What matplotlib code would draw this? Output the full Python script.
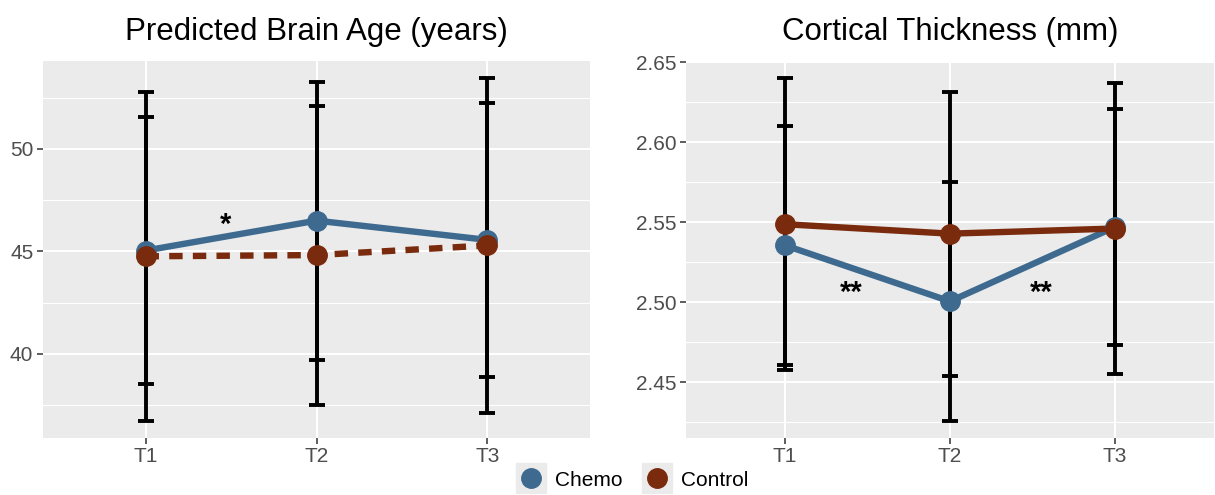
import numpy as np
import matplotlib
matplotlib.use('Agg')
import matplotlib.pyplot as plt
from matplotlib.lines import Line2D

plt.rcParams['font.family'] = ['Liberation Sans', 'DejaVu Sans']

timepoints = ['T1', 'T2', 'T3']

# predicted brain age (years): mean and interval ends
age_chemo = [45.04, 46.50, 45.56]
age_chemo_lo = [38.55, 39.71, 38.89]
age_chemo_hi = [51.53, 53.28, 52.23]
age_ctrl = [44.76, 44.82, 45.29]
age_ctrl_lo = [36.75, 37.52, 37.13]
age_ctrl_hi = [52.77, 52.11, 53.45]

# cortical thickness (mm)
ct_chemo = [2.5355, 2.5005, 2.547]
ct_chemo_lo = [2.4608, 2.426, 2.4733]
ct_chemo_hi = [2.6102, 2.575, 2.6208]
ct_ctrl = [2.5487, 2.5428, 2.546]
ct_ctrl_lo = [2.4573, 2.454, 2.4552]
ct_ctrl_hi = [2.640, 2.6316, 2.6369]

# significance marks: (x position, y position, label)
age_marks = [(1.466, 46.3, '*')]
ct_marks = [(1.40, 2.506, '**'), (2.55, 2.506, '**')]

CHEMO = '#3E6A8F'
CTRL = '#7A2A0D'
BG = '#EBEBEB'

fig = plt.figure(figsize=(12.15, 4.95), dpi=100)
ax1 = fig.add_axes([0.0354, 0.1158, 0.4502, 0.761])
ax2 = fig.add_axes([0.5646, 0.1158, 0.4346, 0.761])

x = np.arange(1, len(timepoints) + 1)


def draw_panel(ax, chemo, clo, chi, ctrl, lo, hi, ctrl_dashed, marks, title,
               major, minor):
    ax.set_facecolor(BG)
    for s in ax.spines.values():
        s.set_visible(False)
    for yerr_mean, l, h in [(ctrl, lo, hi), (chemo, clo, chi)]:
        m = np.array(yerr_mean)
        err = [m - np.array(l), np.array(h) - m]
        ax.errorbar(x, m, yerr=err, fmt='none', ecolor='black', elinewidth=2.8,
                    capsize=6, capthick=2.8, zorder=3)
    ax.plot(x, chemo, color=CHEMO, lw=4.6, zorder=4, solid_capstyle='butt')
    if ctrl_dashed:
        ax.plot(x, ctrl, color=CTRL, lw=4.6, zorder=4, dashes=(2.1, 1.6))
    else:
        ax.plot(x, ctrl, color=CTRL, lw=4.6, zorder=4)
    ax.plot(x, chemo, 'o', color=CHEMO, ms=14, zorder=5)
    ax.plot(x, ctrl, 'o', color=CTRL, ms=14, zorder=6)
    for mx, my, lab in marks:
        ax.text(mx, my, lab, ha='center', va='center', fontsize=21,
                fontweight='bold', color='black', zorder=7)
    ax.set_xlim(0.4, 3.6)
    ax.margins(y=0.05)
    ax.set_xticks(x)
    ax.set_xticklabels(timepoints)
    ax.set_yticks(major)
    ax.set_yticks(minor, minor=True)
    ax.grid(True, which='major', color='white', lw=1.5, zorder=0)
    ax.grid(True, which='minor', axis='y', color='white', lw=0.8, zorder=0)
    ax.set_axisbelow(True)
    ax.tick_params(axis='both', which='major', length=4, width=1.1,
                   color='#333333', labelcolor='#4D4D4D', labelsize=15, pad=3)
    ax.tick_params(axis='y', which='minor', length=0)
    ax.set_title(title, fontsize=22.5, pad=15, color='black')


draw_panel(ax1, age_chemo, age_chemo_lo, age_chemo_hi, age_ctrl, age_ctrl_lo,
           age_ctrl_hi, True, age_marks, 'Predicted Brain Age (years)',
           [40, 45, 50], [37.5, 42.5, 47.5, 52.5])
draw_panel(ax2, ct_chemo, ct_chemo_lo, ct_chemo_hi, ct_ctrl, ct_ctrl_lo,
           ct_ctrl_hi, False, ct_marks, 'Cortical Thickness (mm)',
           [2.45, 2.50, 2.55, 2.60, 2.65], [2.425, 2.475, 2.525, 2.575, 2.625])
ax2.yaxis.set_major_formatter(plt.FuncFormatter(lambda v, _: f"{v:.2f}"))

key = Line2D([], [], marker='s', color=BG, ms=21, linestyle='none')
h_chemo = (key, Line2D([], [], marker='o', color=CHEMO, ms=14, linestyle='none'))
h_ctrl = (key, Line2D([], [], marker='o', color=CTRL, ms=14, linestyle='none'))
fig.legend([h_chemo, h_ctrl], ['Chemo', 'Control'], loc='center',
           bbox_to_anchor=(0.521, 0.030), ncol=2, frameon=False, fontsize=15,
           handlelength=1.3, handletextpad=0.5, columnspacing=1.0)

fig.savefig('out.png', dpi=100)
